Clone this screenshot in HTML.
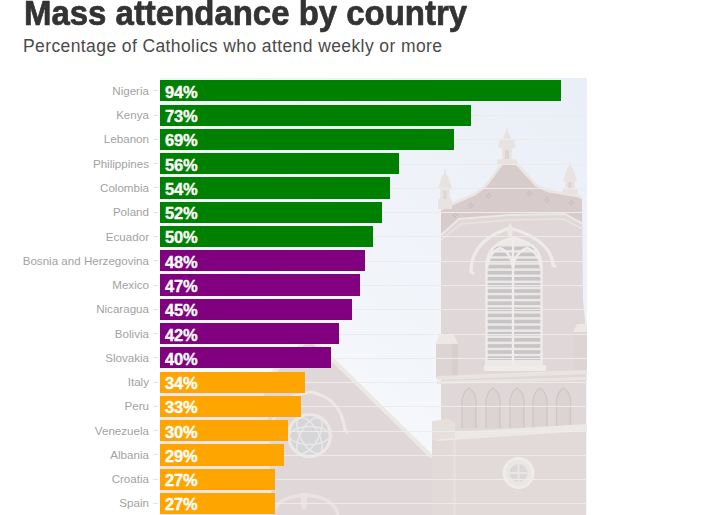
<!DOCTYPE html>
<html><head><meta charset="utf-8">
<style>
*{margin:0;padding:0;box-sizing:border-box}
html,body{width:724px;height:515px;overflow:hidden;background:#fff}
body{position:relative;font-family:"Liberation Sans",sans-serif}
#title{position:absolute;left:24px;top:-6px;font-weight:bold;font-size:34.5px;color:#333;white-space:nowrap;transform:scaleX(0.955);transform-origin:0 0;-webkit-text-stroke:0.7px #333}
#sub{position:absolute;left:23px;top:36px;font-size:17.5px;color:#4a4a4a;white-space:nowrap;letter-spacing:0.4px}
#bg{position:absolute;left:160px;top:78px;width:427px;height:437px;overflow:hidden}
.grid{position:absolute;left:160px;width:427px;height:1px;background:#ecebed}
.tick{position:absolute;left:153px;width:5px;height:1px;background:#e3e3e3}
.lab{position:absolute;right:575px;font-size:11.6px;color:#a2a2a2;white-space:nowrap;line-height:14px}
.bar{position:absolute;left:160px;height:21.2px}
.val{position:absolute;left:165px;font-weight:bold;font-size:16.5px;color:#fff;white-space:nowrap;line-height:21px;margin-top:1.5px;letter-spacing:-0.2px;-webkit-text-stroke:0.35px #fff}
.g{background:#008000}.p{background:#800080}.o{background:#ffa500}
</style></head><body>
<div id="title">Mass attendance by country</div>
<div id="sub">Percentage of Catholics who attend weekly or more</div>
<div id="bg">
<svg width="427" height="437" viewBox="160 78 427 437">
<defs>
<linearGradient id="sky" x1="587" y1="78" x2="330" y2="460" gradientUnits="userSpaceOnUse">
<stop offset="0" stop-color="#eaeef7"/><stop offset="0.5" stop-color="#f0f3f9"/><stop offset="1" stop-color="#f7f9fc"/>
</linearGradient>
<clipPath id="win"><path d="M486,367 L486,263 Q489,243 513,237 Q539,243 542,263 L542,367 Z"/></clipPath>
<filter id="bl" x="-5%" y="-5%" width="110%" height="110%"><feGaussianBlur stdDeviation="0.75"/></filter>
</defs>
<rect x="160" y="78" width="427" height="437" fill="url(#sky)"/>
<g filter="url(#bl)">
<polygon points="160,483 309.5,337 432,456 432,515 160,515" fill="#e0d8d8"/>
<polyline points="160,483 309.5,337 432,457" fill="none" stroke="#ece8e5" stroke-width="4"/>
<polygon points="160,380 262,380 268,420 272,515 160,515" fill="#ebe6e3"/>
<path d="M270,440 Q271,397 311,392 Q341,398 345,430 L348,433" fill="none" stroke="#ece8e5" stroke-width="3"/>
<circle cx="309.5" cy="435.5" r="21" fill="#d6d6da" stroke="#ece8e5" stroke-width="3.2"/>
<g fill="none" stroke="#eae7e5" stroke-width="1.5" transform="translate(309.5,435.5)"><ellipse rx="20" ry="9"/><ellipse rx="20" ry="9" transform="rotate(60)"/><ellipse rx="20" ry="9" transform="rotate(120)"/></g>
<path d="M272,515 Q276,497 305,495 Q334,497 338,515" fill="none" stroke="#e9e4e1" stroke-width="3.5"/>
<path d="M300,493 L308,493 L306,509 L302,509 Z" fill="#e9e4e1"/>
<polygon points="441,515 441,210 475,195 485.5,187 504,162 514,162 536,186 548,192 579,197 582,199 583,300 586,330 586,515" fill="#e0d8d8"/>
<polygon points="441,210 475,195 485.5,187 504,162 514,162 536,186 548,192 579,197 582,199 582,222 565,214 510,216 459,220 441,236" fill="#d7cccb"/>
<polyline points="441,209 475,194 485.5,186 504,161 514,161 536,185 548,191 579,196 582,198" fill="none" stroke="#ebe6e3" stroke-width="2.8"/>
<g fill="#e8e3e0"><polygon points="507,126 508.3,133 510,134 510,138 514,140 516,147 512,149 511.5,159 517,160 517,165 497,165 497,160 502.5,159 502,149 498,147 500,140 504,138 504,134 505.7,133"/><polygon points="445,167 446.3,175 448,176 449,180 452,188 449.5,190 450,198 452,200 452,209 438,209 438,200 440,198 440.5,190 438,188 441,180 442,176 443.7,175"/><polygon points="570,160 571.3,167 573,168 574,172 577,180 574.5,182 575,188 578,190 578,194 562,194 562,190 565,188 565.5,182 563,180 566,172 567,168 568.7,167"/></g>
<g fill="#dcd3d2"><rect x="505" y="150" width="4" height="9"/><rect x="443.5" y="191" width="3" height="8"/><rect x="568.5" y="182" width="3" height="6"/></g>
<g fill="#cbbfbf"><circle cx="486.8" cy="195.7" r="1.1"/><circle cx="490.4" cy="195.7" r="1.1"/><circle cx="488.6" cy="193.9" r="1.1"/><circle cx="488.6" cy="197.5" r="1.1"/><circle cx="469.1" cy="205.7" r="1.1"/><circle cx="472.7" cy="205.7" r="1.1"/><circle cx="470.9" cy="203.9" r="1.1"/><circle cx="470.9" cy="207.5" r="1.1"/><circle cx="527.6" cy="193.5" r="1.1"/><circle cx="531.2" cy="193.5" r="1.1"/><circle cx="529.4" cy="191.7" r="1.1"/><circle cx="529.4" cy="195.3" r="1.1"/><circle cx="545.2" cy="200.0" r="1.1"/><circle cx="548.8" cy="200.0" r="1.1"/><circle cx="547.0" cy="198.2" r="1.1"/><circle cx="547.0" cy="201.8" r="1.1"/><circle cx="569.6" cy="203.0" r="1.1"/><circle cx="573.2" cy="203.0" r="1.1"/><circle cx="571.4" cy="201.2" r="1.1"/><circle cx="571.4" cy="204.8" r="1.1"/><circle cx="453.2" cy="215.0" r="1.1"/><circle cx="456.8" cy="215.0" r="1.1"/><circle cx="455.0" cy="213.2" r="1.1"/><circle cx="455.0" cy="216.8" r="1.1"/></g>
<polyline points="441,235 459,219 510,215 565,214 583,224" fill="none" stroke="#ece8e5" stroke-width="2"/>
<polyline points="441,240 461,224 510,220 563,219 583,229" fill="none" stroke="#e9e4e1" stroke-width="1.5"/>
<path d="M474,274 L471,272 Q471,240 510,228 Q551,240 553,265 L556,267" fill="none" stroke="#eeebe8" stroke-width="3.2"/>
<path d="M510,222 L513,229 L512,236 L508,236 L507,229 Z" fill="#ece8e5"/>
<path d="M486,367 L486,263 Q489,243 513,237 Q539,243 542,263 L542,367 Z" fill="#ebe8e6"/>
<g fill="#c6c4c6" clip-path="url(#win)"><rect x="487" y="246.5" width="54" height="3.6"/><rect x="487" y="252.6" width="54" height="3.6"/><rect x="487" y="258.7" width="54" height="3.6"/><rect x="487" y="264.8" width="54" height="3.6"/><rect x="487" y="270.9" width="54" height="3.6"/><rect x="487" y="277.0" width="54" height="3.6"/><rect x="487" y="283.1" width="54" height="3.6"/><rect x="487" y="289.2" width="54" height="3.6"/><rect x="487" y="295.3" width="54" height="3.6"/><rect x="487" y="301.4" width="54" height="3.6"/><rect x="487" y="307.5" width="54" height="3.6"/><rect x="487" y="313.6" width="54" height="3.6"/><rect x="487" y="319.7" width="54" height="3.6"/><rect x="487" y="325.8" width="54" height="3.6"/><rect x="487" y="331.9" width="54" height="3.6"/><rect x="487" y="338.0" width="54" height="3.6"/><rect x="487" y="344.1" width="54" height="3.6"/><rect x="487" y="350.2" width="54" height="3.6"/><rect x="487" y="356.3" width="54" height="3.6"/></g>
<g fill="none" stroke="#efece9" stroke-width="2.4"><path d="M513,240 L513,366"/><path d="M487,268 Q489,252 500,248 Q511,252 513,268 M513,268 Q515,252 527,248 Q539,252 541,268"/><path d="M486.5,367 L486.5,263 Q489,243 513,238 Q539,243 541.5,263 L541.5,367"/></g>
<rect x="484" y="365" width="62" height="6" fill="#eeebe8"/>
<polygon points="436,344 440,334 454,334 458,344 458,378 436,378" fill="#ddd5d4"/>
<polygon points="436,344 440,334 454,334 458,344" fill="#ece8e5"/>
<rect x="452" y="344" width="6" height="34" fill="#d7cece"/>
<polygon points="573,332 577,324 587,324 587,374 573,374" fill="#ddd5d4"/>
<polygon points="573,332 577,324 587,324 587,332" fill="#ece8e5"/>
<polygon points="437,376 587,370 587,374 437,380" fill="#e9e4e1"/>
<polygon points="437,381 587,377 587,380 437,384" fill="#e9e4e1"/>
<g fill="#dcd3d3" stroke="#d0c6c6" stroke-width="1.4"><path d="M462,428 L462,400 Q463,392 469,388 Q475,392 476,400 L476,428"/><path d="M486,428 L486,400 Q487,392 493,388 Q499,392 500,400 L500,428"/><path d="M510,428 L510,400 Q511,392 517,388 Q523,392 524,400 L524,428"/><path d="M533,428 L533,400 Q534,392 540,388 Q546,392 547,400 L547,428"/><path d="M556.5,428 L556.5,400 Q557.5,392 563.5,388 Q569.5,392 570.5,400 L570.5,428"/></g>
<polygon points="432,440 586,430 586,515 432,515" fill="#e1dad9"/>
<polygon points="437,433 587,424 587,431 437,441" fill="#ece8e5"/>
<polygon points="432,421 449,419 455,423 455,438 432,440" fill="#e6e0dd"/>
<rect x="453" y="440" width="3" height="75" fill="#e5dfde"/>
<circle cx="518.5" cy="473" r="14.5" fill="#e9e6e4" stroke="#efebe8" stroke-width="3"/>
<circle cx="518.5" cy="473" r="9" fill="#dcd8d7"/>
<path d="M518.5,463 L518.5,483 M509.5,473 L527.5,473" fill="none" stroke="#e9e6e4" stroke-width="2"/>
</g>
</svg>
</div>
<div id="rows">
<div class="tick" style="top:90.40px"></div>
<div class="lab" style="top:83.90px">Nigeria</div>
<div class="bar g" style="top:80.30px;width:400.72px"></div>
<div class="val" style="top:80.30px">94%</div>
<div class="grid" style="top:115.07px"></div>
<div class="tick" style="top:114.67px"></div>
<div class="lab" style="top:108.17px">Kenya</div>
<div class="bar g" style="top:104.57px;width:311.20px"></div>
<div class="val" style="top:104.57px">73%</div>
<div class="grid" style="top:139.34px"></div>
<div class="tick" style="top:138.94px"></div>
<div class="lab" style="top:132.44px">Lebanon</div>
<div class="bar g" style="top:128.84px;width:294.15px"></div>
<div class="val" style="top:128.84px">69%</div>
<div class="grid" style="top:163.61px"></div>
<div class="tick" style="top:163.21px"></div>
<div class="lab" style="top:156.71px">Philippines</div>
<div class="bar g" style="top:153.11px;width:238.73px"></div>
<div class="val" style="top:153.11px">56%</div>
<div class="grid" style="top:187.88px"></div>
<div class="tick" style="top:187.48px"></div>
<div class="lab" style="top:180.98px">Colombia</div>
<div class="bar g" style="top:177.38px;width:230.20px"></div>
<div class="val" style="top:177.38px">54%</div>
<div class="grid" style="top:212.15px"></div>
<div class="tick" style="top:211.75px"></div>
<div class="lab" style="top:205.25px">Poland</div>
<div class="bar g" style="top:201.65px;width:221.68px"></div>
<div class="val" style="top:201.65px">52%</div>
<div class="grid" style="top:236.42px"></div>
<div class="tick" style="top:236.02px"></div>
<div class="lab" style="top:229.52px">Ecuador</div>
<div class="bar g" style="top:225.92px;width:213.15px"></div>
<div class="val" style="top:225.92px">50%</div>
<div class="grid" style="top:260.69px"></div>
<div class="tick" style="top:260.29px"></div>
<div class="lab" style="top:253.79px">Bosnia and Herzegovina</div>
<div class="bar p" style="top:250.19px;width:204.62px"></div>
<div class="val" style="top:250.19px">48%</div>
<div class="grid" style="top:284.96px"></div>
<div class="tick" style="top:284.56px"></div>
<div class="lab" style="top:278.06px">Mexico</div>
<div class="bar p" style="top:274.46px;width:200.36px"></div>
<div class="val" style="top:274.46px">47%</div>
<div class="grid" style="top:309.23px"></div>
<div class="tick" style="top:308.83px"></div>
<div class="lab" style="top:302.33px">Nicaragua</div>
<div class="bar p" style="top:298.73px;width:191.84px"></div>
<div class="val" style="top:298.73px">45%</div>
<div class="grid" style="top:333.50px"></div>
<div class="tick" style="top:333.10px"></div>
<div class="lab" style="top:326.60px">Bolivia</div>
<div class="bar p" style="top:323.00px;width:179.05px"></div>
<div class="val" style="top:323.00px">42%</div>
<div class="grid" style="top:357.77px"></div>
<div class="tick" style="top:357.37px"></div>
<div class="lab" style="top:350.87px">Slovakia</div>
<div class="bar p" style="top:347.27px;width:170.52px"></div>
<div class="val" style="top:347.27px">40%</div>
<div class="grid" style="top:382.04px"></div>
<div class="tick" style="top:381.64px"></div>
<div class="lab" style="top:375.14px">Italy</div>
<div class="bar o" style="top:371.54px;width:144.94px"></div>
<div class="val" style="top:371.54px">34%</div>
<div class="grid" style="top:406.31px"></div>
<div class="tick" style="top:405.91px"></div>
<div class="lab" style="top:399.41px">Peru</div>
<div class="bar o" style="top:395.81px;width:140.68px"></div>
<div class="val" style="top:395.81px">33%</div>
<div class="grid" style="top:430.58px"></div>
<div class="tick" style="top:430.18px"></div>
<div class="lab" style="top:423.68px">Venezuela</div>
<div class="bar o" style="top:420.08px;width:127.89px"></div>
<div class="val" style="top:420.08px">30%</div>
<div class="grid" style="top:454.85px"></div>
<div class="tick" style="top:454.45px"></div>
<div class="lab" style="top:447.95px">Albania</div>
<div class="bar o" style="top:444.35px;width:123.63px"></div>
<div class="val" style="top:444.35px">29%</div>
<div class="grid" style="top:479.12px"></div>
<div class="tick" style="top:478.72px"></div>
<div class="lab" style="top:472.22px">Croatia</div>
<div class="bar o" style="top:468.62px;width:115.10px"></div>
<div class="val" style="top:468.62px">27%</div>
<div class="grid" style="top:503.39px"></div>
<div class="tick" style="top:502.99px"></div>
<div class="lab" style="top:496.49px">Spain</div>
<div class="bar o" style="top:492.89px;width:115.10px"></div>
<div class="val" style="top:492.89px">27%</div>
</div><!--rows-->
</body></html>
